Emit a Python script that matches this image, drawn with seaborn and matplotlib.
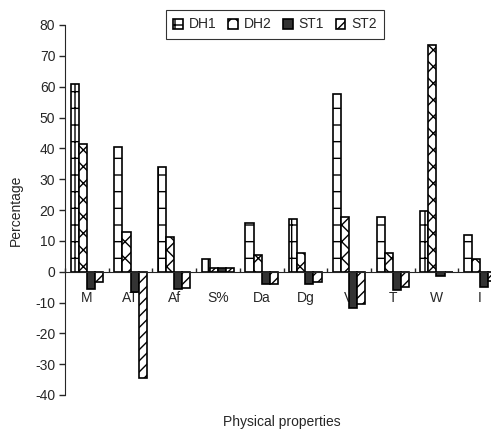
import numpy as np
import pandas as pd
import matplotlib
matplotlib.use('Agg')
import matplotlib.pyplot as plt
import seaborn as sns

# values (percent change per physical property)
properties = ['M', 'AT', 'Af', 'S%', 'Da', 'Dg', 'V', 'T', 'W', 'I']
dh1 = [60.9, 40.4, 33.8, 4.0, 15.7, 17.0, 57.7, 17.8, 19.7, 11.9]
dh2 = [41.5, 13.0, 11.2, 1.3, 5.4, 6.0, 17.8, 6.2, 73.4, 4.0]
st1 = [-5.7, -6.5, -5.7, 1.3, -4.0, -4.0, -11.9, -6.0, -1.5, -5.0]
st2 = [-3.2, -34.4, -5.4, 1.3, -4.0, -3.2, -10.6, -5.1, 0.0, -3.0]
series_names = ['DH1', 'DH2', 'ST1', 'ST2']
y_ticks = list(range(-40, 90, 10))


def make_frame():
    '''
    Build a long-form table for seaborn from the series lists
    '''
    wide = pd.DataFrame({'property': properties,
                         'DH1': dh1, 'DH2': dh2, 'ST1': st1, 'ST2': st2})
    return wide.melt(id_vars='property', var_name='series', value_name='value')


def main():
    df = make_frame()

    sns.set_style('white')
    plt.rcParams['font.family'] = ['Liberation Sans', 'DejaVu Sans']
    plt.rcParams['axes.unicode_minus'] = False
    plt.rcParams['hatch.linewidth'] = 1.0

    fig = plt.figure(figsize=(4.91, 4.32), dpi=100)
    ax = fig.add_axes([65 / 491, 37 / 432, 437 / 491, 370 / 432])

    faces = {'DH1': 'white', 'DH2': 'white', 'ST1': '#333333', 'ST2': 'white'}
    sns.barplot(data=df, x='property', y='value', hue='series',
                hue_order=series_names, order=properties, palette=faces,
                saturation=1, width=0.74, edgecolor='black', linewidth=1.2,
                errorbar=None, legend=False, ax=ax)

    # patterns similar to the old spreadsheet fills
    hatches = ['+', 'xx', '', '///']
    for cont, h in zip(ax.containers, hatches):
        for bar in cont:
            bar.set_hatch(h)

    ax.set_xlim(-0.5, len(properties) - 0.5)
    ax.set_ylim(-40, 80)
    ax.set_yticks(y_ticks)

    # axes look: left spine and a zero line only
    ax.spines['top'].set_visible(False)
    ax.spines['right'].set_visible(False)
    ax.spines['bottom'].set_position(('data', 0))
    ax.set_axisbelow(True)

    ax.tick_params(axis='y', direction='out', length=4, width=1,
                   labelsize=10, pad=3, left=True)
    ax.tick_params(axis='x', which='major', length=0, labelsize=10, pad=14)
    ax.set_xticks(np.arange(-0.5, len(properties), 1), minor=True)
    ax.tick_params(axis='x', which='minor', direction='in', length=3,
                   width=1, bottom=True)

    ax.set_xlabel('Physical properties', fontsize=10)
    ax.set_ylabel('Percentage', fontsize=10)
    ax.xaxis.set_label_coords(0.497, -0.055)
    ax.yaxis.set_label_coords(-0.097, 0.5)

    leg = fig.legend(ax.containers, series_names, loc='center',
                     bbox_to_anchor=(275 / 491, 1 - 24.5 / 432), ncol=4,
                     fontsize=10, frameon=True, fancybox=False,
                     edgecolor='black', handlelength=0.7, handleheight=0.7,
                     handletextpad=0.4, columnspacing=0.85, borderpad=0.55)
    leg.get_frame().set_linewidth(0.8)

    fig.savefig('out.png', dpi=100)


if __name__ == '__main__':
    main()
